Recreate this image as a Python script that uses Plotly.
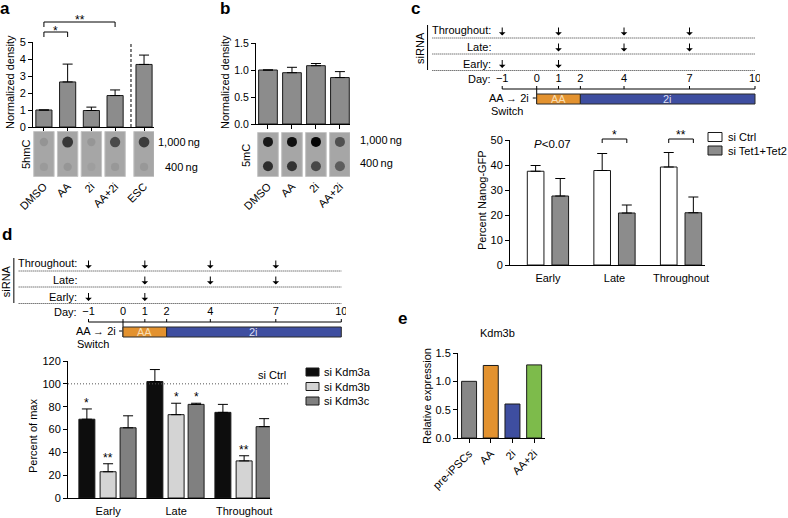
import plotly.graph_objects as go

W, H = 788, 518
FONT = "Liberation Sans, Arial, Helvetica, sans-serif"

# ---------------- data ----------------
a_labels = ["DMSO", "AA", "2i", "AA+2i", "ESC"]
a_values = [1.0, 2.65, 0.97, 1.85, 3.68]
a_errors = [0.0, 1.05, 0.20, 0.33, 0.55]
a_dot_1000 = [0.12, 0.95, 0.10, 0.78, 0.90]
a_dot_400 = [0.07, 0.10, 0.03, 0.08, 0.08]

b_labels = ["DMSO", "AA", "2i", "AA+2i"]
b_values = [1.0, 0.95, 1.08, 0.86]
b_errors = [0.0, 0.10, 0.04, 0.11]
b_dot_1000 = [0.85, 0.90, 0.97, 0.50]
b_dot_400 = [0.72, 0.68, 0.55, 0.42]

row_labels = ["Throughout:", "Late:", "Early:"]
row_days = [[-1, 1, 4, 7], [1, 4, 7], [-1, 1]]
day_ticks = [-1, 0, 1, 2, 4, 7, 10]
phase_labels = ["AA", "2i"]
phase_from = [0, 2]
phase_to = [2, 10]

c_groups = ["Early", "Late", "Throughout"]
c_series = ["si Ctrl", "si Tet1+Tet2"]
c_ctrl = [37.5, 37.8, 39.2]
c_ctrl_err = [2.3, 6.8, 5.8]
c_tet = [27.6, 20.8, 20.9]
c_tet_err = [7.0, 3.2, 6.3]

d_groups = ["Early", "Late", "Throughout"]
d_series = ["si Kdm3a", "si Kdm3b", "si Kdm3c"]
d_kdm3a = [69, 102, 75]
d_kdm3a_err = [9, 10.5, 7]
d_kdm3b = [23, 73, 32.5]
d_kdm3b_err = [7, 10, 4.5]
d_kdm3c = [61.5, 82, 62.5]
d_kdm3c_err = [10.5, 1, 7]
d_stars = [["*", "", ""], ["**", "*", "**"], ["", "*", ""]]

e_labels = ["pre-iPSCs", "AA", "2i", "AA+2i"]
e_values = [1.0, 1.28, 0.60, 1.29]

# ---------------- layout constants ----------------
a_slots = [0, 1, 2, 3, 4.22]
b_slots = list(range(len(b_labels)))
c_slots = list(range(len(c_groups)))
d_slots = list(range(len(d_groups)))
e_slots = list(range(len(e_labels)))

PANELS = {
    "a": ((33, 154), (42, 127), (-0.46, 4.64), (0, 5)),
    "ab": ((33, 154), (131, 177), (-0.46, 4.64), (0, 1)),
    "b": ((256, 350), (43, 124), (-0.5, 3.42), (0, 1.5)),
    "bb": ((256, 350), (132, 177), (-0.5, 3.42), (0, 1)),
    "c": ((510, 705), (140, 265), (-0.57, 2.36), (0, 50)),
    "d": ((68, 270), (361, 498), (-0.59, 2.38), (0, 120)),
    "e": ((458, 545), (353, 438), (-0.51, 3.5), (0, 1.5)),
}


def dom_x(l, r):
    return [l / W, r / W]


def dom_y(t, b):
    return [1 - b / H, 1 - t / H]


def xpx(key, v):
    (l, r), _, (x0, x1), _ = PANELS[key]
    return l + (v - x0) / (x1 - x0) * (r - l)


def ypx(key, v):
    _, (t, b), _, (y0, y1) = PANELS[key]
    return b - (v - y0) / (y1 - y0) * (b - t)


fig = go.Figure()
ann = []
shapes = []


def text(x, y, s, size=11, xanchor="center", yanchor="middle", angle=0, color="black"):
    ann.append(dict(x=x / W, y=1 - y / H, xref="paper", yref="paper", text=s,
                    showarrow=False, xanchor=xanchor, yanchor=yanchor, textangle=angle,
                    font=dict(size=size, color=color, family=FONT)))


def pline(x0, y0, x1, y1, color="black", width=1, dash=None):
    shapes.append(dict(type="line", xref="paper", yref="paper", x0=x0 / W, x1=x1 / W,
                       y0=1 - y0 / H, y1=1 - y1 / H,
                       line=dict(color=color, width=width, dash=dash)))


def prect(x0, y0, x1, y1, fill, line="black"):
    shapes.append(dict(type="rect", xref="paper", yref="paper", x0=x0 / W, x1=x1 / W,
                       y0=1 - y1 / H, y1=1 - y0 / H, fillcolor=fill,
                       line=dict(color=line, width=1)))


def base_ax(**kw):
    d = dict(showgrid=False, zeroline=False, showline=True, linecolor="black", linewidth=1,
             ticks="outside", ticklen=4, tickwidth=1, tickcolor="black", automargin=False,
             tickfont=dict(size=11, color="black", family=FONT), fixedrange=True)
    d.update(kw)
    return d


def axname(n, c):
    return f"{c}axis" if n == 1 else f"{c}axis{n}"


def ref(n, c):
    return c if n == 1 else f"{c}{n}"


layout_axes = {}


def set_panel(n, key, xkw, ykw):
    (l, r), (t, b), xr, yr = PANELS[key]
    layout_axes[axname(n, "x")] = base_ax(domain=dom_x(l, r), range=list(xr), anchor=ref(n, "y"), **xkw)
    layout_axes[axname(n, "y")] = base_ax(domain=dom_y(t, b), range=list(yr), anchor=ref(n, "x"), **ykw)


def err(vals):
    return dict(type="data", symmetric=False, array=vals, arrayminus=[0] * len(vals),
                color="black", thickness=1, width=5)


BAR_LINE = dict(color="#1a1a1a", width=1)


def shade(dk, base=160):
    g = int(round(base * (1 - dk)))
    return f"rgb({g},{g},{g})"


BLOT_FILL = "#a6a6a6"
BLOT_EDGE = "#c4c4c4"

# ---------------- panel a ----------------
set_panel(1, "a", dict(tickvals=a_slots, showticklabels=False, ticklen=3),
          dict(tickvals=[0, 1, 2, 3, 4, 5]))
set_panel(2, "ab", dict(tickvals=a_slots, ticktext=a_labels, tickangle=-45, ticks="",
                        showline=False),
          dict(visible=False))
fig.add_trace(go.Bar(x=a_slots, y=a_values, width=0.68, xaxis="x", yaxis="y",
                     marker=dict(color="#8c8c8c", line=BAR_LINE), error_y=err(a_errors),
                     hoverinfo="skip"))
shapes.append(dict(type="line", xref="x", yref="y", x0=3.67, x1=3.67, y0=0, y1=5,
                   line=dict(color="black", width=1, dash="3px,2px")))
for p in a_slots:
    shapes.append(dict(type="rect", xref="x2", yref="y2", x0=p - 0.43, x1=p + 0.43,
                       y0=0.01, y1=0.99, fillcolor=BLOT_FILL, layer="below", opacity=1,
                       line=dict(color=BLOT_EDGE, width=1)))
fig.add_trace(go.Scatter(x=a_slots + a_slots, y=[0.76] * 5 + [0.22] * 5, xaxis="x2", yaxis="y2",
                         mode="markers", hoverinfo="skip", cliponaxis=False,
                         marker=dict(color=[shade(v) for v in a_dot_1000 + a_dot_400],
                                     size=[8 + 3 * v for v in a_dot_1000 + a_dot_400],
                                     line=dict(width=0))))

# brackets (a)
for (i0, i1, s, ly) in [(0, 1, "*", 32), (0, 3, "**", 22)]:
    x0, x1 = xpx("a", a_slots[i0]), xpx("a", a_slots[i1])
    pline(x0, ly, x1, ly)
    pline(x0, ly, x0, ly + 5)
    pline(x1, ly, x1, ly + 5)
    text((x0 + x1) / 2, ly - 1.5, s, size=12)

text(5, 9, "<b>a</b>", size=17)
text(10, 82, "Normalized density", angle=-90)
text(26, 155, "5hmC", angle=-90)
text(156, 142, "1,000\u2009ng", xanchor="left")
text(163, 167, "400\u2009ng", xanchor="left")

# ---------------- panel b ----------------
set_panel(3, "b", dict(tickvals=b_slots, showticklabels=False, ticklen=4),
          dict(tickvals=[0, 0.5, 1.0, 1.5], tickformat=".1f", tickfont=dict(size=10.5, color="black", family=FONT)))
set_panel(4, "bb", dict(tickvals=b_slots, ticktext=b_labels, tickangle=-45, ticks="",
                        showline=False),
          dict(visible=False))
fig.add_trace(go.Bar(x=b_slots, y=b_values, width=0.78, xaxis="x3", yaxis="y3",
                     marker=dict(color="#8c8c8c", line=BAR_LINE), error_y=err(b_errors),
                     hoverinfo="skip"))
for p in b_slots:
    shapes.append(dict(type="rect", xref="x4", yref="y4", x0=p - 0.43, x1=p + 0.43,
                       y0=0.01, y1=0.99, fillcolor=BLOT_FILL, layer="below", opacity=1,
                       line=dict(color=BLOT_EDGE, width=1)))
fig.add_trace(go.Scatter(x=b_slots + b_slots, y=[0.78] * 4 + [0.24] * 4, xaxis="x4", yaxis="y4",
                         mode="markers", hoverinfo="skip", cliponaxis=False,
                         marker=dict(color=[shade(v) for v in b_dot_1000 + b_dot_400],
                                     size=10, line=dict(width=0))))
text(225, 9, "<b>b</b>", size=17)
text(225, 82, "Normalized density", angle=-90)
text(246, 156, "5mC", angle=-90)
text(358, 140, "1,000\u2009ng", xanchor="left")
text(358, 163, "400\u2009ng", xanchor="left")


# ---------------- timelines ----------------
PPD = 21.83


def day_pos(d):
    return d if d >= 0 else d - 0.58


ROW_TEXT_Y = [12, 28.5, 46]
ROW_LINE_Y = [20, 36, 52.5]
DAY_Y = 61
SCALE_Y = 71
BAR_T, BAR_B = 76, 86


def timeline(n, day0, top, left, right):
    xr = [(left - day0) / PPD, (right - day0) / PPD]
    xid, yid = ref(n, "x"), ref(n, "y")
    layout_axes[axname(n, "x")] = dict(domain=dom_x(left, right), range=xr, visible=False,
                                       anchor=yid, fixedrange=True, automargin=False)
    layout_axes[axname(n, "y")] = dict(domain=dom_y(top, top + 100), range=[100, 0],
                                       visible=False, anchor=xid, fixedrange=True,
                                       automargin=False)
    fig.add_trace(go.Scatter(x=[day_pos(d) for d in day_ticks], y=[DAY_Y] * len(day_ticks),
                             xaxis=xid, yaxis=yid, mode="text", hoverinfo="skip",
                             text=[str(d).replace("-", "\u2212") for d in day_ticks],
                             textfont=dict(size=11, color="black", family=FONT)))

    def a(**kw):
        base = dict(xref=xid, yref=yid, showarrow=False, font=dict(size=11, color="black", family=FONT))
        base.update(kw)
        ann.append(base)

    def l(x0, y0, x1, y1, dash=None, color="black"):
        shapes.append(dict(type="line", xref=xid, yref=yid, x0=x0, x1=x1, y0=y0, y1=y1,
                           line=dict(color=color, width=1, dash=dash)))

    for lab, ty, ly, days in zip(row_labels, ROW_TEXT_Y, ROW_LINE_Y, row_days):
        a(x=-2.0, y=ty, text=lab, xanchor="right")
        l(-4.78, ly, 10, ly, dash="1px,1px", color="#333333")
        for d in days:
            p = day_pos(d)
            ann.append(dict(x=p, y=ly - 2.5, ax=p, ay=ly - 12, xref=xid, yref=yid,
                            axref=xid, ayref=yid, text="", showarrow=True, arrowhead=1,
                            arrowsize=1.1, arrowwidth=1, arrowcolor="black"))
    a(x=-2.0, y=DAY_Y, text="Day:", xanchor="right")
    a(x=-5.35, y=30, text="siRNA", textangle=-90)
    l(-5.0, 7, -5.0, 52)
    l(day_pos(-1), SCALE_Y, 10, SCALE_Y)
    for d in day_ticks:
        p = day_pos(d)
        l(p, SCALE_Y, p, SCALE_Y - 3)
    l(0, SCALE_Y, 0, BAR_B)
    colors = ["#E3922F", "#3E4EA0"]
    tcols = ["#F7DDB3", "#DADFF3"]
    for lab, f0, f1, c, tc in zip(phase_labels, phase_from, phase_to, colors, tcols):
        shapes.append(dict(type="rect", xref=xid, yref=yid, x0=f0, x1=f1, y0=BAR_T, y1=BAR_B,
                           fillcolor=c, line=dict(color="#2a2a2a", width=1)))
        a(x=(f0 + f1) / 2, y=(BAR_T + BAR_B) / 2, text=lab,
          font=dict(size=11, color=tc, family=FONT))
    a(x=-0.25, y=80, text="AA \u2192 2i", xanchor="right")
    l(-0.18, 80, -0.04, 80)
    a(x=-1.36, y=93, text="Switch")


timeline(5, 536.7, 18, 405, 760)
timeline(7, 123.0, 251, 0, 346)

# ---------------- panel c ----------------
set_panel(6, "c", dict(tickvals=c_slots, ticktext=c_groups, ticks="", ticklabelstandoff=3),
          dict(tickvals=[0, 10, 20, 30, 40, 50]))
C_W = 0.25
C_OFF = [-0.31, 0.06]
for vals, errs, col, off in zip([c_ctrl, c_tet], [c_ctrl_err, c_tet_err], ["white", "#8c8c8c"], C_OFF):
    fig.add_trace(go.Bar(x=c_slots, y=vals, width=C_W, offset=off, xaxis="x6", yaxis="y6",
                         marker=dict(color=col, line=BAR_LINE), error_y=err(errs),
                         hoverinfo="skip"))
for g, s in [(1, "*"), (2, "**")]:
    x0 = xpx("c", c_slots[g] + C_OFF[0] + C_W / 2)
    x1 = xpx("c", c_slots[g] + C_OFF[1] + C_W / 2)
    pline(x0, 139, x1, 139)
    pline(x0, 139, x0, 143)
    pline(x1, 139, x1, 143)
    text((x0 + x1) / 2, 135, s, size=12)
text((xpx("c", 0 + C_OFF[0] + C_W / 2) + xpx("c", 0 + C_OFF[1] + C_W / 2)) / 2 + 5, 144,
     "<i>P</i>&lt;0.07", size=11.5)
text(415, 9, "<b>c</b>", size=17)
text(482, 200, "Percent Nanog-GFP", angle=-90)
for i, (lab, col) in enumerate(zip(c_series, ["white", "#8c8c8c"])):
    yc = 137 + 13.5 * i
    prect(708, yc - 4.5, 722, yc + 4.5, col, line="#1a1a1a")
    text(726, yc, lab, xanchor="left")

# ---------------- panel d ----------------
set_panel(8, "d", dict(tickvals=d_slots, ticktext=d_groups, ticks="", ticklabelstandoff=3),
          dict(tickvals=[0, 20, 40, 60, 80, 100, 120]))
D_W = 0.235
D_OFF = [-0.43, -0.118, 0.176]
D_COL = ["#0d0d0d", "#d4d4d4", "#808080"]
for vals, errs, col, off, stars in zip([d_kdm3a, d_kdm3b, d_kdm3c],
                                       [d_kdm3a_err, d_kdm3b_err, d_kdm3c_err],
                                       D_COL, D_OFF, d_stars):
    fig.add_trace(go.Bar(x=d_slots, y=vals, width=D_W, offset=off, xaxis="x8", yaxis="y8",
                         marker=dict(color=col, line=BAR_LINE), error_y=err(errs),
                         hoverinfo="skip"))
    for g, v, e, s in zip(d_slots, vals, errs, stars):
        if s:
            ann.append(dict(x=g + off + D_W / 2, y=v + e, xref="x8", yref="y8", text=s,
                            showarrow=False, yanchor="middle", yshift=6,
                            font=dict(size=12, color="black", family=FONT)))
y100 = ypx("d", 100)
pline(68, y100, 290, y100, color="#555555", dash="1px,2px")
text(288, 375, "si Ctrl", xanchor="right")
text(7, 234, "<b>d</b>", size=17)
text(33, 436, "Percent of max", angle=-90)
for i, (lab, col) in enumerate(zip(d_series, D_COL)):
    yc = 372 + 14.5 * i
    prect(306, yc - 4, 319, yc + 4, col, line="#1a1a1a")
    text(322, yc, lab, xanchor="left")

# ---------------- panel e ----------------
set_panel(9, "e", dict(tickvals=e_slots, ticktext=e_labels, tickangle=-45, ticklen=4),
          dict(tickvals=[0, 0.5, 1.0, 1.5], tickformat=".1f"))
fig.add_trace(go.Bar(x=e_slots, y=e_values, width=0.69, xaxis="x9", yaxis="y9",
                     marker=dict(color=["#878787", "#E3922F", "#3E4EA0", "#7DBB4B"], line=BAR_LINE),
                     hoverinfo="skip"))
text(402, 318, "<b>e</b>", size=17)
text(498, 333, "Kdm3b")
text(427, 396, "Relative expression", angle=-90)

fig.update_layout(
    width=W, height=H, autosize=False, margin=dict(l=0, r=0, t=0, b=0),
    paper_bgcolor="white", plot_bgcolor="rgba(0,0,0,0)", showlegend=False,
    barmode="overlay", font=dict(family=FONT, size=11, color="black"),
    annotations=ann, shapes=shapes, **layout_axes,
)
fig.write_html("out.html", config={"displayModeBar": False, "staticPlot": True},
               post_script="document.body.style.margin='0px';document.body.style.padding='0px';")
